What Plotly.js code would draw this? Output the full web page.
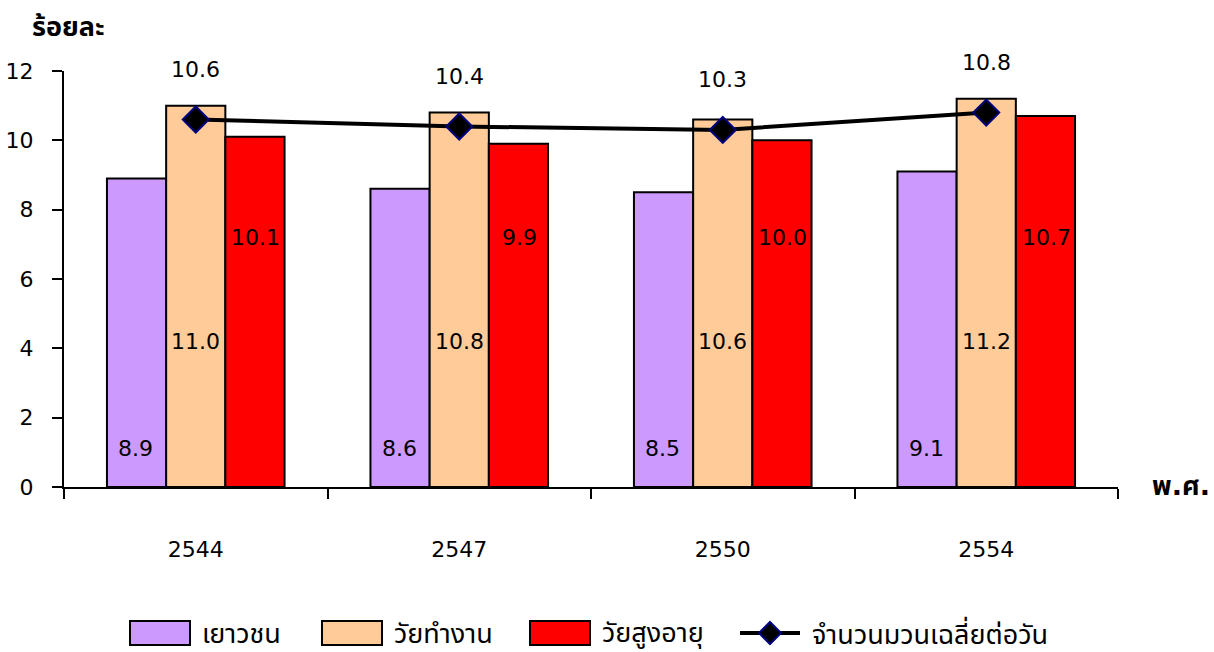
<!DOCTYPE html>
<html><head><meta charset="utf-8">
<script src="https://cdn.plot.ly/plotly-3.0.1.min.js"></script>
<style>body{margin:0;background:#fff}#c{width:1214px;height:652px}</style>
</head><body><div id="c"></div>
<script>
const years = ['2544','2547','2550','2554'];
const youth = [8.9, 8.6, 8.5, 9.1];
const working = [11.0, 10.8, 10.6, 11.2];
const elderly = [10.1, 9.9, 10.0, 10.7];
const avgPerDay = [10.6, 10.4, 10.3, 10.8];
const names = ['เยาวชน','วัยทำงาน','วัยสูงอายุ','จำนวนมวนเฉลี่ยต่อวัน'];
const colors = ['#CC99FF','#FFCC99','#FF0000'];

const F = '"DejaVu Sans", Tahoma, "Noto Sans Thai", "Noto Sans", sans-serif';
const fs = 22;
const fsThai = 27;

const barSeries = [youth, working, elderly];
const traces = barSeries.map((v,i)=>({
  type:'bar', x:years, y:v, name:names[i],
  marker:{color:colors[i], line:{color:'#000', width:2}},
  showlegend:false, hoverinfo:'skip'
}));
traces.push({
  type:'scatter', mode:'lines+markers', x:years, y:avgPerDay, name:names[3],
  line:{color:'#000', width:4},
  marker:{symbol:'diamond', size:20, color:'#000', line:{color:'#000080', width:2}},
  showlegend:false, hoverinfo:'skip'
});

const W=1214, H=652, L=64, R=1118, T=71, B=487;
const px = x => (x-L)/(R-L);
const py = y => (B-y)/(B-T);

const ann = [];
const shift = 60; // px offset between adjacent bars
const labelY = [1.1, 4.2, 7.2];
years.forEach((yr,j)=>{
  barSeries.forEach((s,i)=>{
    ann.push({x:j, y:labelY[i], xref:'x', yref:'y', text:s[j].toFixed(1), showarrow:false,
      xshift:(i-1)*shift, font:{family:F, size:fs, color:'#000'}});
  });
  ann.push({x:j, y:avgPerDay[j], xref:'x', yref:'y', text:avgPerDay[j].toFixed(1), showarrow:false,
    yshift:50, font:{family:F, size:fs, color:'#000'}});
});
ann.push({x:px(30), y:py(27), xref:'paper', yref:'paper', text:'<b>ร้อยละ</b>', showarrow:false,
  xanchor:'left', yanchor:'middle', font:{family:F, size:fsThai, color:'#000'}});
ann.push({xref:'paper', yref:'paper', x:px(1150), y:py(485), text:'<b>พ.ศ.</b>', showarrow:false,
  xanchor:'left', yanchor:'middle', font:{family:F, size:fsThai, color:'#000'}});

const shapes = [];
const legItems = [
  {x0:130, tx:200, i:0},
  {x0:322, tx:392, i:1},
  {x0:530, tx:600, i:2}
];
legItems.forEach(it=>{
  shapes.push({type:'rect', xref:'paper', yref:'paper', x0:px(it.x0), x1:px(it.x0+60), y0:py(645), y1:py(621),
    fillcolor:colors[it.i], line:{color:'#000', width:2}});
  ann.push({xref:'paper', yref:'paper', x:px(it.tx), y:py(633), text:names[it.i], showarrow:false,
    xanchor:'left', yanchor:'middle', font:{family:F, size:fsThai, color:'#000'}});
});
shapes.push({type:'line', xref:'paper', yref:'paper', x0:px(740), x1:px(800), y0:py(633), y1:py(633),
  line:{color:'#000', width:4}});
const cx=770, cy=633, d=11;
shapes.push({type:'path', xref:'paper', yref:'paper',
  path:`M ${px(cx)},${py(cy-d)} L ${px(cx+d)},${py(cy)} L ${px(cx)},${py(cy+d)} L ${px(cx-d)},${py(cy)} Z`,
  fillcolor:'#000', line:{color:'#000080', width:2}});
ann.push({xref:'paper', yref:'paper', x:px(810), y:py(633), text:names[3], showarrow:false,
  xanchor:'left', yanchor:'middle', font:{family:F, size:fsThai, color:'#000'}});

const layout = {
  width:W, height:H,
  margin:{l:L, r:W-R, t:T, b:H-B},
  paper_bgcolor:'#fff', plot_bgcolor:'#fff',
  barmode:'group', bargap:0.326, bargroupgap:0,
  showlegend:false,
  font:{family:F, size:fs, color:'#000'},
  xaxis:{type:'category', range:[-0.5, years.length-0.5], showline:true, linecolor:'#000', linewidth:2,
    ticks:'outside', tickson:'boundaries', ticklen:10, tickwidth:2, tickcolor:'#000',
    showgrid:false, zeroline:false, ticklabelstandoff:42, tickangle:0,
    tickfont:{family:F, size:fs, color:'#000'}},
  yaxis:{range:[0,12], dtick:2, showline:true, linecolor:'#000', linewidth:2,
    ticks:'outside', ticklen:10, tickwidth:2, tickcolor:'#000',
    showgrid:false, zeroline:false, ticklabelstandoff:14,
    tickfont:{family:F, size:fs, color:'#000'}},
  shapes:shapes, annotations:ann
};
Plotly.newPlot('c', traces, layout, {displayModeBar:false, staticPlot:true});
</script></body></html>
